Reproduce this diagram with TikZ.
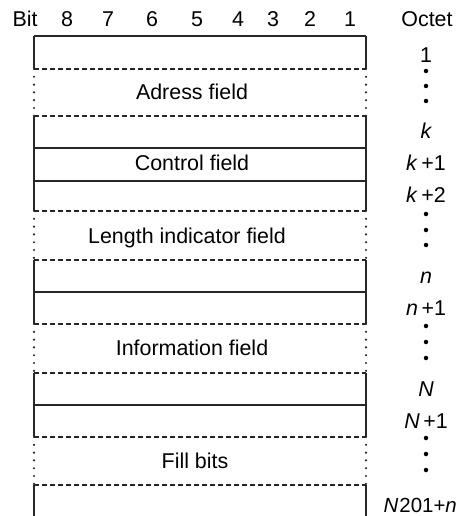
\documentclass[tikz,border=0pt]{standalone}
\usepackage{fontspec}
\setmainfont{Liberation Sans}
\begin{document}
\begin{tikzpicture}[x=1bp,y=-1bp,
  solidline/.style={line width=1.3bp, draw=black!85},
  dashline/.style={line width=1.1bp, draw=black!85, dash pattern=on 5bp off 3bp},
  dotline/.style={line width=2.4bp, draw=black!85, line cap=round, dash pattern=on 0bp off 7.8bp},
  bigdot/.style={circle, fill=black, inner sep=0pt, minimum size=4.5bp},
  lbl/.style={font=\fontsize{21.5}{25}\selectfont, inner sep=0pt, anchor=base}]
\useasboundingbox (0,0) rectangle (459,516);

% header row
\node[lbl] (bit) at (25,27) {Bit};
\foreach \b/\x in {8/67,7/108,6/152,5/197,4/238,3/273,2/310,1/350}
  \node[lbl] (b\b) at (\x,27) {\b};
\node[lbl] (octet) at (427,27) {Octet};

% frame edges
\def\xl{34}\def\xr{366}
% solid side segments
\foreach \a/\b in {36/69,116/211,260/324,373/437,485/516}{
  \draw[solidline] (\xl,\a) -- (\xl,\b);
  \draw[solidline] (\xr,\a) -- (\xr,\b);
}
% dotted side segments
\foreach \a/\b in {69/116,211/260,324/373,437/485}{
  \draw[dotline] (\xl,\a) -- (\xl,\b);
  \draw[dotline] (\xr,\a) -- (\xr,\b);
}
% solid octet borders
\foreach \y in {36,148,181,292,405}
  \draw[solidline] (\xl,\y) -- (\xr,\y);
% dashed borders
\foreach \y in {69,116,211,260,324,373,437,485}
  \draw[dashline] (\xl,\y) -- (\xr,\y);

% field names
\node[lbl] (adr)  at (192,100) {Adress field};
\node[lbl] (ctl)  at (192,171) {Control field};
\node[lbl] (len)  at (187,243) {Length indicator field};
\node[lbl] (info) at (192,355) {Information field};
\node[lbl] (fill) at (195,468) {Fill bits};

% octet numbers
\node[lbl] (o1)   at (426,63)  {1};
\node[lbl] (ok)   at (426,139) {\itshape k};
\node[lbl] (ok1)  at (426,171) {\textit{k}\,+1};
\node[lbl] (ok2)  at (426,203) {\textit{k}\,+2};
\node[lbl] (on)   at (426,283) {\itshape n};
\node[lbl] (on1)  at (426,315) {\textit{n}\,+1};
\node[lbl] (oN)   at (426,396) {\itshape N};
\node[lbl] (oN1)  at (426,428) {\textit{N}\,+1};
\node[lbl, anchor=base east, font=\fontsize{20.5}{24}\selectfont] (oend) at (457,512) {\textit{N}\kern1bp 201+\textit{n}};

% continuation dots in the octet column
\foreach \y [count=\i] in {71,86,101,214,230,245,326,342,358,438,454,470}
  \node[bigdot] (d\i) at (426,\y) {};
\end{tikzpicture}
\end{document}
